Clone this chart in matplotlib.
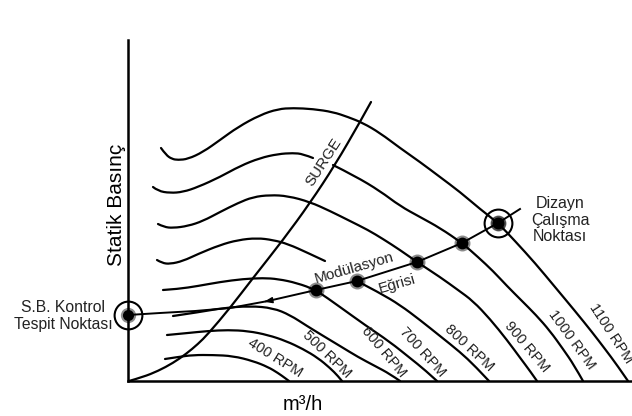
import matplotlib
import numpy as np

matplotlib.use("Agg")
import matplotlib.pyplot as plt  # noqa: E402
from matplotlib.patches import PathPatch  # noqa: E402
from matplotlib.path import Path  # noqa: E402

plt.rcParams["font.family"] = ["Liberation Sans", "DejaVu Sans"]

# Fan curves: flow (x) vs static pressure (y), arbitrary units from the axes corner.
# NaN marks a break in a curve where a label sits on it.
rpm_400_x = [37, 50, 65, 85, 105, 125, 140, 150, 157, 161]
rpm_400_y = [22, 24, 26, 26, 25, 20, 14, 8, 3, 0]

rpm_500_x = [39, 60, 80, 100, 120, 140, 158, 175, 190, 202, 210, 214]
rpm_500_y = [46, 48, 50, 51, 50, 46, 40, 32, 23, 13, 5, 0]

rpm_600_x = [45, 72, 95, 122, 145, 162, 179, 197, 212, 230, 247, 262, 272]
rpm_600_y = [65, 69, 73, 75, 73, 66, 55, 44, 35, 24, 15, 7, 0]

rpm_700_x = [35, 50, 70, 92, 115, 135, 150, 169, 188, 212, 237, 262, 282, 297, 309]
rpm_700_y = [91, 92, 95, 99, 102, 103, 102, 98, 91, 74, 56, 39, 23, 11, 0]

rpm_800_x = [29, 34, 42, 55, 70, 92, 110, 129, 145, 160, 180, 197, np.nan,
             229, 252, 272, 292, 312, 332, 347, 361]
rpm_800_y = [121, 118, 117, 120, 127, 136, 141, 143, 141, 137, 128, 120, np.nan,
             100, 88, 76, 61, 45, 29, 15, 0]

rpm_900_x = [30, 36, 45, 60, 75, 92, 110, 125, 142, 160, 182, 202, 222, 240, 255,
             272, 289, 312, 330, 345, 362, 379, 393, 402, 409]
rpm_900_y = [157, 154, 153, 155, 160, 169, 178, 184, 186, 185, 179, 170, 160, 151, 142,
             131, 119, 104, 91, 80, 62, 41, 22, 10, 0]

rpm_1000_x = [25, 30, 42, 55, 70, 92, 112, 132, 150, 165, 175, 185, np.nan,
              205, 227, 252, 272, 292, 312, 334, 350, 365, 379, 393, 408, 422, 435, 446, 455]
rpm_1000_y = [194, 190, 188, 189, 194, 204, 215, 223, 227, 228, 227, 223, np.nan,
              216, 205, 190, 175, 164, 153, 138, 124, 110, 95, 81, 66, 50, 32, 16, 0]

rpm_1100_x = [33, 38, 44, 50, 60, 75, 92, 110, 132, 150, 165, 185, 205, 220, 235, 252,
              272, 292, 312, 332, 352, 370, 387, 407, 427, 447, 464, 477, 489, 500]
rpm_1100_y = [233, 226, 222, 221, 222, 229, 241, 254, 266, 272, 273, 272, 269, 264, 258, 248,
              233, 219, 204, 189, 172, 158, 140, 118, 94, 70, 49, 32, 16, 0]

rpm_labels = ["400 RPM", "500 RPM", "600 RPM", "700 RPM",
              "800 RPM", "900 RPM", "1000 RPM", "1100 RPM"]

surge_x = [1, 15, 30, 45, 58, 70, 80, 102, 125, 155, 182, 207, 232, 243]
surge_y = [0, 4, 10, 18, 27, 37, 47, 73, 103, 141, 178, 216, 259, 279]

# Modulation line from the static-pressure control point up to the design point
modulation_x = [0, 32, 67, 102, 140, 188, 229, 289, 334, 370, 392]
modulation_y = [66, 68, 70, 73, 80, 91, 100, 119, 138, 158, 172]
operating_x = [188, 229, 289, 334, 370]
operating_y = [91, 100, 119, 138, 158]
control_point = (0, 66)
design_point = (370, 158)


def curve_path(xs, ys):
    pts = np.column_stack([xs, ys])
    verts, codes = [pts[0]], [Path.MOVETO]
    n = len(pts)
    if n == 2:
        verts.append(pts[1])
        codes.append(Path.LINETO)
    for i in range(1, n - 1):
        end = pts[i + 1] if i == n - 2 else (pts[i] + pts[i + 1]) / 2
        verts += [pts[i], end]
        codes += [Path.CURVE3, Path.CURVE3]
    return Path(verts, codes)


def draw_curve(ax, xs, ys, **kw):
    xs = np.asarray(xs, dtype=float)
    ys = np.asarray(ys, dtype=float)
    breaks = np.where(np.isnan(xs))[0]
    for seg in np.split(np.arange(len(xs)), breaks):
        seg = seg[~np.isnan(xs[seg])]
        if len(seg) > 1:
            ax.add_patch(PathPatch(curve_path(xs[seg], ys[seg]), fill=False,
                                   capstyle="round", joinstyle="round", **kw))


fig = plt.figure(figsize=(6.32, 4.16), dpi=100)
ax = fig.add_axes([128 / 632, 35 / 416, 504 / 632, 341 / 416])
ax.set_xlim(0, 504)
ax.set_ylim(0, 341)
for side in ("top", "right"):
    ax.spines[side].set_visible(False)
for side in ("left", "bottom"):
    ax.spines[side].set_linewidth(1.8)
ax.set_xticks([])
ax.set_yticks([])

line_kw = dict(edgecolor="black", linewidth=1.6, clip_on=False)
curves = [
    (rpm_400_x, rpm_400_y), (rpm_500_x, rpm_500_y), (rpm_600_x, rpm_600_y),
    (rpm_700_x, rpm_700_y), (rpm_800_x, rpm_800_y), (rpm_900_x, rpm_900_y),
    (rpm_1000_x, rpm_1000_y), (rpm_1100_x, rpm_1100_y),
]
for xs, ys in curves:
    draw_curve(ax, xs, ys, **line_kw)
draw_curve(ax, surge_x, surge_y, **line_kw)

ax.plot(modulation_x, modulation_y, color="black", lw=1.4, clip_on=False,
        solid_joinstyle="round")
# small arrow on the modulation line pointing back to the control point
tail = np.array([modulation_x[4], modulation_y[4]], dtype=float)
head = tail + 0.18 * (np.array([modulation_x[3], modulation_y[3]]) - tail)
ax.annotate("", xy=head, xytext=tail,
            arrowprops=dict(arrowstyle="-|>,head_length=0.5,head_width=0.18",
                            color="black", lw=1.0))

# soft black dots at the operating points
ax.plot(operating_x, operating_y, "o", ms=11.5, color="black", alpha=0.45, mew=0, clip_on=False)
ax.plot(operating_x, operating_y, "o", ms=8.5, color="black", mew=0, clip_on=False)
for px, py in (control_point, design_point):
    ax.plot(px, py, "o", ms=11, color="black", alpha=0.45, mew=0, clip_on=False)
    ax.plot(px, py, "o", ms=8, color="black", mew=0, clip_on=False)
    ax.plot(px, py, "o", ms=20, mfc="none", mec="black", mew=1.5, clip_on=False)

text_color = "#222222"
label_spots = [(147, 23, -32), (199, 27, -44), (256, 29, -50), (295, 29, -48),
               (341, 33, -43), (399, 34, -50), (444, 41, -54), (483, 48, -57)]
for label, (lx, ly, rot) in zip(rpm_labels, label_spots):
    ax.text(lx, ly, label, rotation=rot, ha="center", va="center",
            fontsize=10.5, color=text_color, clip_on=False)

ax.text(196, 219, "SURGE", rotation=57, ha="center", va="center",
        fontsize=11, color=text_color)
ax.text(226, 113, "Modülasyon", rotation=16, ha="center", va="center",
        fontsize=11, color=text_color)
ax.text(269, 97, "Eğrisi", rotation=16, ha="center", va="center",
        fontsize=11, color=text_color)
ax.text(432, 161, "Dizayn\nÇalışma\nNoktası", ha="center", va="center",
        fontsize=11.5, color=text_color, linespacing=1.15)

fig.text(63 / 632, 1 - 316 / 416, "S.B. Kontrol\nTespit Noktası", ha="center",
         va="center", fontsize=11.3, color=text_color, linespacing=1.2)
fig.text(116 / 632, 1 - 205 / 416, "Statik Basınç", rotation=90, ha="center",
         va="center", fontsize=15)
fig.text(303 / 632, 1 - 405 / 416, "m³/h", ha="center", va="center", fontsize=14.5)

fig.savefig("out.png", dpi=100, facecolor="white")
